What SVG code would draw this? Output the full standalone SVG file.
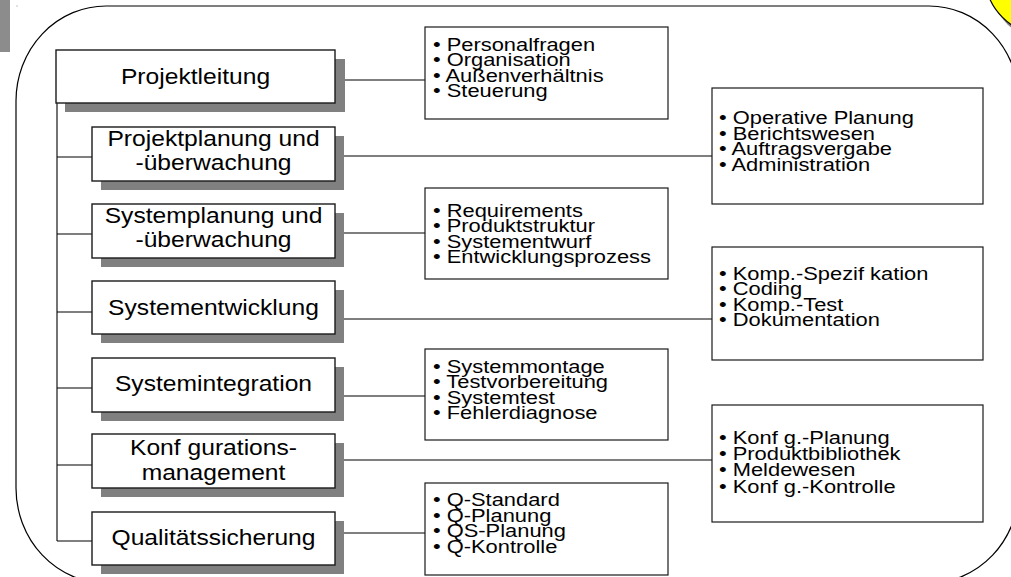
<svg xmlns="http://www.w3.org/2000/svg" width="1011" height="577" viewBox="0 0 1011 577">
<style>
.frame{fill:none;stroke:#000;stroke-width:1.2}
.box{fill:#fff;stroke:#1a1a1a;stroke-width:1.4}
.rbox{fill:#fff;stroke:#1a1a1a;stroke-width:1.2}
.shadow{fill:#808080}
.conn{stroke:#000;stroke-width:1.1;fill:none}
.lt{font-family:"Liberation Sans",Arial,Helvetica,sans-serif;font-size:22px;text-anchor:middle;fill:#000}
.rt{font-family:"Liberation Sans",Arial,Helvetica,sans-serif;font-size:18.7px;fill:#000}
</style>
<rect x="0" y="0" width="1011" height="577" fill="#fff"/>
<rect x="0" y="0" width="10" height="52" fill="#8c8c8c"/>
<rect x="16.5" y="5.5" width="1" height="1" fill="#888"/>
<rect class="frame" x="16" y="6" width="1003" height="577" rx="90" ry="95"/>
<g id="corner-mark">
<circle cx="1050" cy="-18" r="60" fill="#808080"/>
<circle cx="1045" cy="-25" r="60" fill="#ffff00" stroke="#000" stroke-width="1.2"/>
</g>
<g id="connectors">
<line class="conn" x1="57" y1="103" x2="57" y2="541"/>
<line class="conn" x1="57" y1="157" x2="92" y2="157"/>
<line class="conn" x1="57" y1="234" x2="92" y2="234"/>
<line class="conn" x1="57" y1="312" x2="92" y2="312"/>
<line class="conn" x1="57" y1="388" x2="92" y2="388"/>
<line class="conn" x1="57" y1="465" x2="92" y2="465"/>
<line class="conn" x1="57" y1="541" x2="92" y2="541"/>
<line class="conn" x1="335" y1="80" x2="425" y2="80"/>
<line class="conn" x1="335" y1="156" x2="712" y2="156"/>
<line class="conn" x1="335" y1="233" x2="425" y2="233"/>
<line class="conn" x1="335" y1="319" x2="712" y2="319"/>
<line class="conn" x1="335" y1="396" x2="425" y2="396"/>
<line class="conn" x1="335" y1="460" x2="712" y2="460"/>
<line class="conn" x1="335" y1="533" x2="425" y2="533"/>
</g>
<g id="projektleitung">
<rect class="shadow" x="65" y="59" width="280" height="53"/>
<rect class="box" x="56" y="50" width="279" height="53"/>
<g transform="translate(195.5,0) scale(1.12,1)"><text class="lt" x="0" y="84.5">Projektleitung</text></g>
</g>
<g id="projektplanung">
<rect class="shadow" x="101" y="136" width="243" height="54"/>
<rect class="box" x="92" y="127" width="243" height="54"/>
<g transform="translate(213.5,0) scale(1.12,1)"><text class="lt" x="0" y="146">Projektplanung und</text><text class="lt" x="0" y="170.5">-überwachung</text></g>
</g>
<g id="systemplanung">
<rect class="shadow" x="101" y="213" width="243" height="54"/>
<rect class="box" x="92" y="204" width="243" height="54"/>
<g transform="translate(213.5,0) scale(1.12,1)"><text class="lt" x="0" y="223">Systemplanung und</text><text class="lt" x="0" y="247.5">-überwachung</text></g>
</g>
<g id="systementwicklung">
<rect class="shadow" x="101" y="290" width="243" height="53"/>
<rect class="box" x="92" y="281" width="243" height="53"/>
<g transform="translate(213.5,0) scale(1.12,1)"><text class="lt" x="0" y="315">Systementwicklung</text></g>
</g>
<g id="systemintegration">
<rect class="shadow" x="101" y="367" width="243" height="54"/>
<rect class="box" x="92" y="358" width="243" height="54"/>
<g transform="translate(213.5,0) scale(1.12,1)"><text class="lt" x="0" y="391">Systemintegration</text></g>
</g>
<g id="konfigurationsmanagement">
<rect class="shadow" x="101" y="443" width="243" height="54"/>
<rect class="box" x="92" y="434" width="243" height="54"/>
<g transform="translate(213.5,0) scale(1.12,1)"><text class="lt" x="0" y="455.5">Konf gurations-</text><text class="lt" x="0" y="480">management</text></g>
</g>
<g id="qualitaetssicherung">
<rect class="shadow" x="101" y="521" width="243" height="53"/>
<rect class="box" x="92" y="512" width="243" height="53"/>
<g transform="translate(213.5,0) scale(1.12,1)"><text class="lt" x="0" y="545">Qualitätssicherung</text></g>
</g>
<g id="r-projektleitung">
<rect class="rbox" x="425" y="27" width="243" height="92"/>
<g transform="translate(433,0) scale(1.17,1)">
<text class="rt" x="0" y="50.7">• Personalfragen</text>
<text class="rt" x="0" y="66.2">• Organisation</text>
<text class="rt" x="0" y="81.7">• Außenverhältnis</text>
<text class="rt" x="0" y="97.2">• Steuerung</text>
</g>
</g>
<g id="r-projektplanung">
<rect class="rbox" x="712" y="88" width="271" height="116"/>
<g transform="translate(719,0) scale(1.17,1)">
<text class="rt" x="0" y="124.5">• Operative Planung</text>
<text class="rt" x="0" y="140">• Berichtswesen</text>
<text class="rt" x="0" y="155.5">• Auftragsvergabe</text>
<text class="rt" x="0" y="171">• Administration</text>
</g>
</g>
<g id="r-systemplanung">
<rect class="rbox" x="425" y="188" width="243" height="91"/>
<g transform="translate(433,0) scale(1.17,1)">
<text class="rt" x="0" y="216.7">• Requirements</text>
<text class="rt" x="0" y="232.2">• Produktstruktur</text>
<text class="rt" x="0" y="247.7">• Systementwurf</text>
<text class="rt" x="0" y="263.2">• Entwicklungsprozess</text>
</g>
</g>
<g id="r-systementwicklung">
<rect class="rbox" x="712" y="247" width="271" height="113"/>
<g transform="translate(719,0) scale(1.17,1)">
<text class="rt" x="0" y="280">• Komp.-Spezif kation</text>
<text class="rt" x="0" y="295.5">• Coding</text>
<text class="rt" x="0" y="311">• Komp.-Test</text>
<text class="rt" x="0" y="326.5">• Dokumentation</text>
</g>
</g>
<g id="r-systemintegration">
<rect class="rbox" x="425" y="349" width="243" height="91"/>
<g transform="translate(433,0) scale(1.17,1)">
<text class="rt" x="0" y="373">• Systemmontage</text>
<text class="rt" x="0" y="388.5">• Testvorbereitung</text>
<text class="rt" x="0" y="404">• Systemtest</text>
<text class="rt" x="0" y="419.5">• Fehlerdiagnose</text>
</g>
</g>
<g id="r-konfigurationsmanagement">
<rect class="rbox" x="712" y="405" width="271" height="117"/>
<g transform="translate(719,0) scale(1.17,1)">
<text class="rt" x="0" y="444">• Konf g.-Planung</text>
<text class="rt" x="0" y="460">• Produktbibliothek</text>
<text class="rt" x="0" y="476.5">• Meldewesen</text>
<text class="rt" x="0" y="493">• Konf g.-Kontrolle</text>
</g>
</g>
<g id="r-qualitaetssicherung">
<rect class="rbox" x="425" y="483" width="243" height="92"/>
<g transform="translate(433,0) scale(1.17,1)">
<text class="rt" x="0" y="506.5">• Q-Standard</text>
<text class="rt" x="0" y="522">• Q-Planung</text>
<text class="rt" x="0" y="537.5">• QS-Planung</text>
<text class="rt" x="0" y="553">• Q-Kontrolle</text>
</g>
</g>
</svg>
